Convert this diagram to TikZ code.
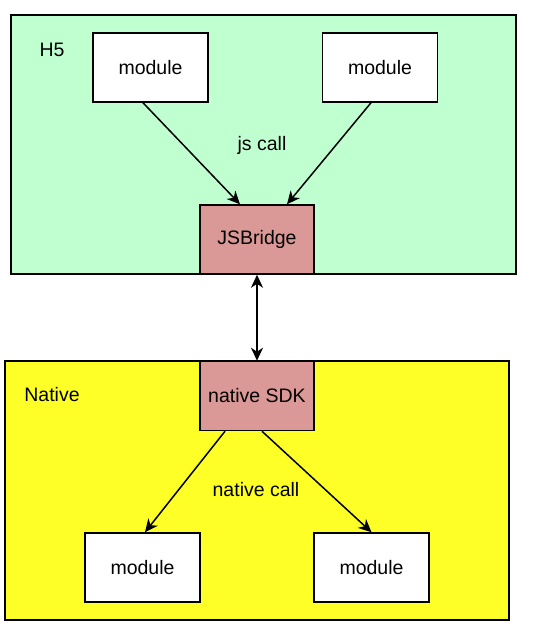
\documentclass[tikz,border=0pt]{standalone}
\usepackage{fontspec}
\setmainfont{Liberation Sans}
\usetikzlibrary{arrows.meta}
\definecolor{hgreen}{RGB}{192, 255, 208}
\definecolor{nyellow}{RGB}{255, 255, 40}
\definecolor{brpink}{RGB}{218, 152, 150}

\begin{document}
\begin{tikzpicture}[
  x=1pt, y=-1pt,
  every node/.style={font=\fontsize{19.5}{22}\selectfont},
  layer/.style={draw=black, line width=1.5pt, minimum width=#1, minimum height=259pt, inner sep=0pt},
  modbox/.style={draw=black, line width=1.5pt, fill=white, minimum width=115pt, minimum height=69pt, inner sep=0pt},
  bridgebox/.style={draw=black, line width=1.5pt, fill=brpink, minimum width=114pt, minimum height=69pt, inner sep=0pt},
  arrow/.style={-{Stealth[length=13pt, width=12pt, inset=4pt]}, line width=1.5pt},
  twoway/.style={{Stealth[length=13pt, width=12pt, inset=4pt]}-{Stealth[length=13pt, width=12pt, inset=4pt]}, line width=1.5pt}
]
\useasboundingbox[fill=white] (0,0) rectangle (551,634);
% layers
\node[layer=505pt, fill=hgreen] (h5) at (263.5,144.5) {};
\node[layer=504pt, fill=nyellow] (native) at (257,490.5) {};
\node at (52,50) {H5};
\node at (52,395) {Native};
% h5 side
\node[modbox] (m1) at (150.5,67.5) {module};
\node[modbox] (m2) at (380,67.5) {module};
\node[bridgebox] (bridge) at (257,239.5) {JSBridge};
\draw[arrow] ([xshift=-7.5pt]m1.south) -- ([xshift=-17pt]bridge.north);
\draw[arrow] ([xshift=-9pt]m2.south) -- ([xshift=30pt]bridge.north);
\node (jscall) at (262,145) {js call};
% native side
\node[bridgebox] (sdk) at (257,396) {native SDK};
\node[modbox] (m3) at (142.5,567.5) {module};
\node[modbox] (m4) at (371.5,567.5) {module};
\draw[arrow] ([xshift=-32pt]sdk.south) -- ([xshift=2.5pt]m3.north);
\draw[arrow] ([xshift=5pt]sdk.south) -- (m4.north);
\node (nativecall) at (256,490) {native call};
% bridge link
\draw[twoway] (bridge.south) -- (sdk.north);
\end{tikzpicture}
\end{document}
